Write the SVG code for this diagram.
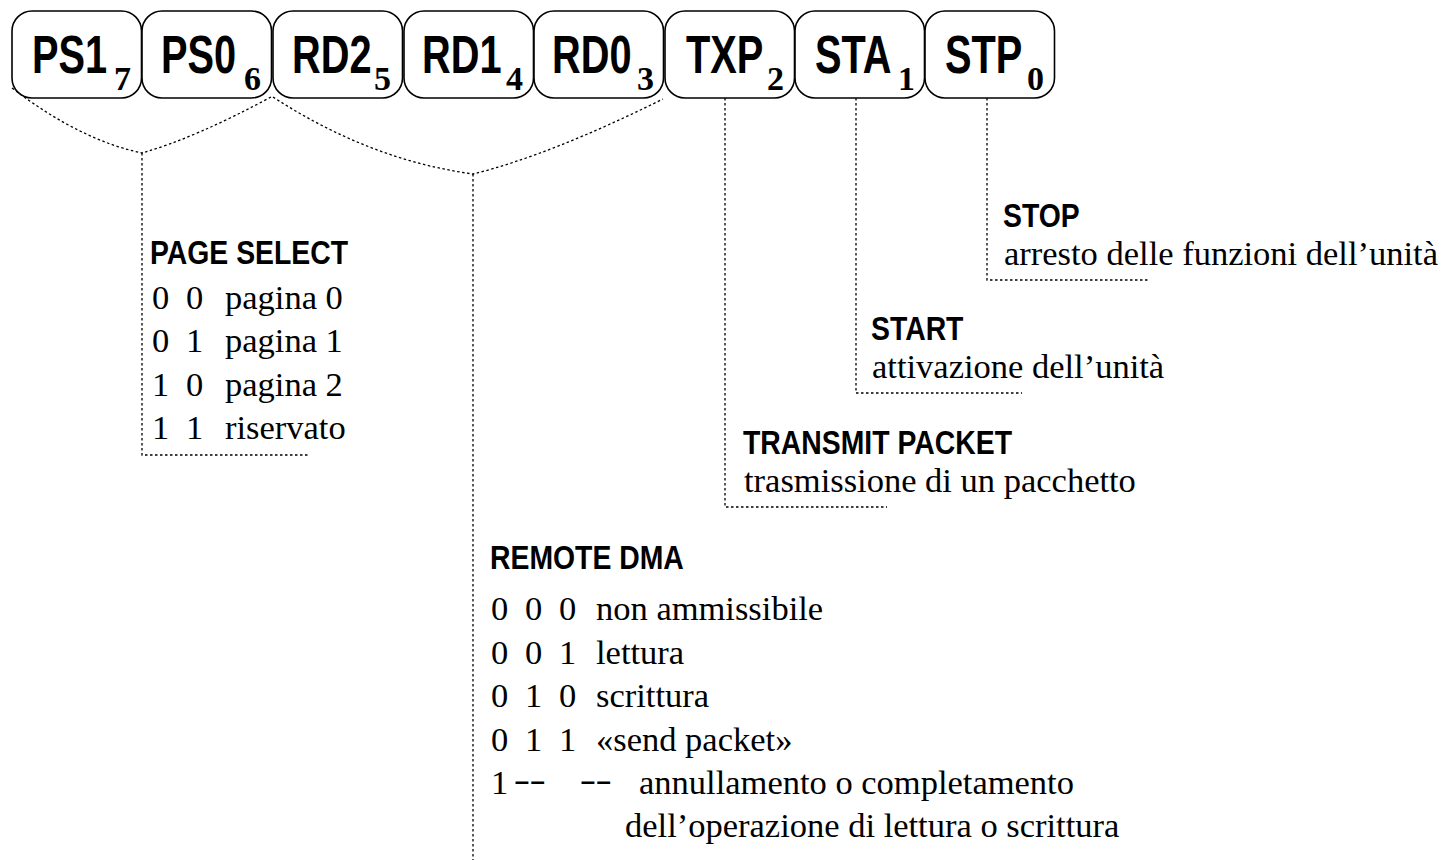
<svg xmlns="http://www.w3.org/2000/svg" width="1445" height="860" viewBox="0 0 1445 860">
<style>
.box{fill:#fff;stroke:#000;stroke-width:1.6}
.bl{font-family:"Liberation Sans",Arial,sans-serif;font-weight:bold;font-size:53px;fill:#000}
.sub{font-family:"Liberation Serif","Times New Roman",serif;font-weight:bold;font-size:34px;fill:#000}
.hd{font-family:"Liberation Sans",Arial,sans-serif;font-weight:bold;font-size:33px;fill:#000}
.tx{font-family:"Liberation Serif","Times New Roman",serif;font-size:34.5px;fill:#000}
.dot{fill:none;stroke:#000;stroke-width:1.3;stroke-dasharray:2.5,2.5}
</style>
<rect width="1445" height="860" fill="#fff"/>
<g id="connectors">
<path class="dot" d="M12,88 Q80,140 142,153 Q195,138 271,97"/>
<path class="dot" d="M142,153 V455 H308"/>
<path class="dot" d="M273,97 Q370,160 473,174 Q550,155 663,99"/>
<path class="dot" d="M473,174 V860"/>
<path class="dot" d="M725,98 V507 H887"/>
<path class="dot" d="M856,98 V393 H1022"/>
<path class="dot" d="M987,98 V280 H1148"/>
</g>
<g id="bit-PS1"><rect class="box" x="12" y="11" width="129.5" height="87" rx="20"/><text class="bl" transform="translate(32,73) scale(0.75,1)">PS1</text><text class="sub" x="114" y="90">7</text></g>
<g id="bit-PS0"><rect class="box" x="142" y="11" width="129.5" height="87" rx="20"/><text class="bl" transform="translate(161,73) scale(0.75,1)">PS0</text><text class="sub" x="244" y="90">6</text></g>
<g id="bit-RD2"><rect class="box" x="273" y="11" width="129.5" height="87" rx="20"/><text class="bl" transform="translate(292,73) scale(0.75,1)">RD2</text><text class="sub" x="374" y="90">5</text></g>
<g id="bit-RD1"><rect class="box" x="404" y="11" width="129.5" height="87" rx="20"/><text class="bl" transform="translate(422,73) scale(0.75,1)">RD1</text><text class="sub" x="506" y="90">4</text></g>
<g id="bit-RD0"><rect class="box" x="534" y="11" width="129.5" height="87" rx="20"/><text class="bl" transform="translate(552,73) scale(0.75,1)">RD0</text><text class="sub" x="637" y="90">3</text></g>
<g id="bit-TXP"><rect class="box" x="665" y="11" width="129.5" height="87" rx="20"/><text class="bl" transform="translate(686,73) scale(0.75,1)">TXP</text><text class="sub" x="767" y="90">2</text></g>
<g id="bit-STA"><rect class="box" x="795" y="11" width="129.5" height="87" rx="20"/><text class="bl" transform="translate(815,73) scale(0.75,1)">STA</text><text class="sub" x="898" y="90">1</text></g>
<g id="bit-STP"><rect class="box" x="925" y="11" width="129.5" height="87" rx="20"/><text class="bl" transform="translate(945,73) scale(0.75,1)">STP</text><text class="sub" x="1027" y="90">0</text></g>
<g id="page-select">
<text class="hd" transform="translate(150,264) scale(0.86,1)">PAGE SELECT</text>
<text class="tx" x="152" y="309">0</text><text class="tx" x="186" y="309">0</text><text class="tx" x="225" y="309">pagina 0</text>
<text class="tx" x="152" y="352">0</text><text class="tx" x="186" y="352">1</text><text class="tx" x="225" y="352">pagina 1</text>
<text class="tx" x="152" y="396">1</text><text class="tx" x="186" y="396">0</text><text class="tx" x="225" y="396">pagina 2</text>
<text class="tx" x="152" y="439">1</text><text class="tx" x="186" y="439">1</text><text class="tx" x="225" y="439">riservato</text>
</g>
<g id="remote-dma">
<text class="hd" transform="translate(490,569) scale(0.86,1)">REMOTE DMA</text>
<text class="tx" x="491" y="620">0</text><text class="tx" x="525" y="620">0</text><text class="tx" x="559" y="620">0</text><text class="tx" x="596" y="620">non ammissibile</text>
<text class="tx" x="491" y="664">0</text><text class="tx" x="525" y="664">0</text><text class="tx" x="559" y="664">1</text><text class="tx" x="596" y="664">lettura</text>
<text class="tx" x="491" y="707">0</text><text class="tx" x="525" y="707">1</text><text class="tx" x="559" y="707">0</text><text class="tx" x="596" y="707">scrittura</text>
<text class="tx" x="491" y="751">0</text><text class="tx" x="525" y="751">1</text><text class="tx" x="559" y="751">1</text><text class="tx" x="596" y="751">«send packet»</text>
<text class="tx" x="491" y="794">1</text>
<text class="tx" style="font-weight:bold" transform="translate(514,794) scale(0.8,1)">−−</text>
<text class="tx" style="font-weight:bold" transform="translate(580,794) scale(0.8,1)">−−</text>
<text class="tx" x="639" y="794">annullamento o completamento</text>
<text class="tx" x="625" y="837">dell’operazione di lettura o scrittura</text>
</g>
<g id="transmit-packet">
<text class="hd" transform="translate(743,454) scale(0.86,1)">TRANSMIT PACKET</text>
<text class="tx" x="744" y="492">trasmissione di un pacchetto</text>
</g>
<g id="start">
<text class="hd" transform="translate(871,340) scale(0.86,1)">START</text>
<text class="tx" x="872" y="378">attivazione dell’unità</text>
</g>
<g id="stop">
<text class="hd" transform="translate(1003,227) scale(0.86,1)">STOP</text>
<text class="tx" x="1004" y="265">arresto delle funzioni dell’unità</text>
</g>
</svg>
